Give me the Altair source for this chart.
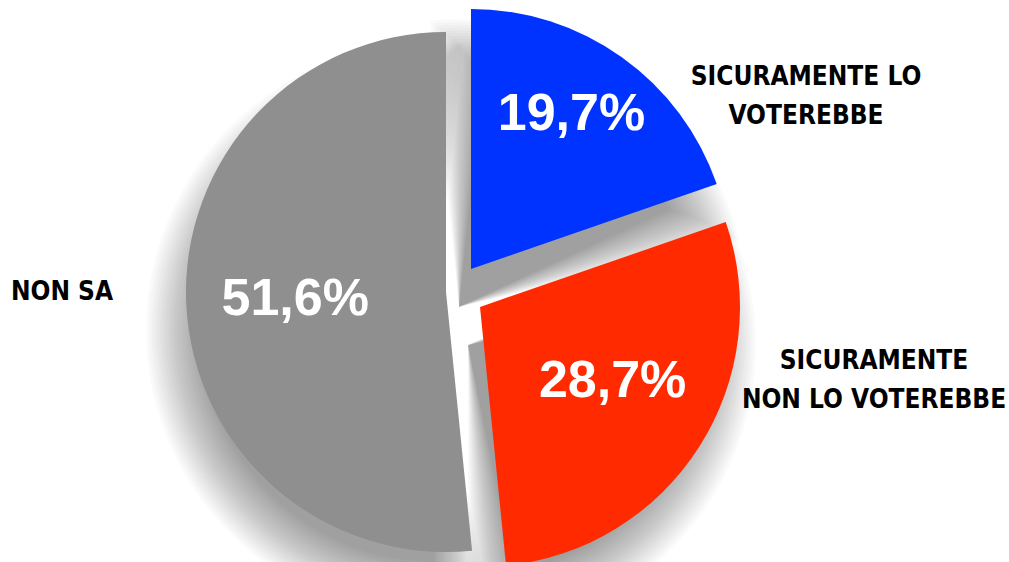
import altair as alt
import pandas as pd

# ---- data ----
categories = ["SICURAMENTE LO VOTEREBBE", "SICURAMENTE NON LO VOTEREBBE", "NON SA"]
label_lines = ["SICURAMENTE LO\nVOTEREBBE", "SICURAMENTE\nNON LO VOTEREBBE", "NON SA"]
values = [19.7, 28.7, 51.6]
pct_labels = ["19,7%", "28,7%", "51,6%"]
colors = ["#0033ff", "#ff2a00", "#8f8f8f"]
order = [0, 1, 2]

df = pd.DataFrame({
    "category": categories,
    "label": label_lines,
    "value": values,
    "pct": pct_labels,
    "order": order,
})

# ---- styling / layout ----
W, H = 1009, 562
R = 260
centers = [(471, 269), (480, 307), (446, 292)]        # exploded slice centres
pct_radius = [180, 155, 151]
pct_shift = [(-4, -8), (2, -9), (0, -1)]
outer_pos = [(806, 77), (874, 361), (62, 292)]         # centre of first line

# soft drop shadow built from stacked translucent arcs
SH_OFF = (-12, 38)
K = 10           # layers each side of the edge
SH_RAD = 2.8     # px per step
SH_ANG = 0.16    # value units (% of circle) per step
SH_OP = 0.021

LABEL_FONT = "'DejaVu Sans Condensed', 'Liberation Sans Narrow', 'DejaVu Sans', sans-serif"
PCT_FONT = "'Liberation Sans', Arial, sans-serif"

theta_scale = alt.Scale(domain=[0, 100], range=[0, 6.283185307179586])
color_scale = alt.Scale(domain=categories, range=colors)

base = (
    alt.Chart(df)
    .transform_window(cum="sum(value)", sort=[alt.SortField("order")], frame=[None, 0])
    .transform_calculate(start="datum.cum - datum.value",
                         mid="datum.cum - datum.value / 2")
)

shadow_layers, slice_layers, text_layers = [], [], []
for i in order:
    cx, cy = centers[i]
    sub = base.transform_filter(f"datum.order == {i}")
    for k in range(-K, K + 1):
        shadow_layers.append(
            sub.transform_calculate(
                s0=f"datum.start - ({k * SH_ANG})",
                s1=f"datum.cum + ({k * SH_ANG})",
            ).mark_arc(radius=R + k * SH_RAD, color="black", opacity=SH_OP,
                       x=cx + SH_OFF[0], y=cy + SH_OFF[1])
            .encode(theta=alt.Theta("s0:Q", scale=theta_scale, stack=None),
                    theta2="s1:Q")
        )
    slice_layers.append(
        sub.mark_arc(radius=R, x=cx, y=cy, opacity=1)
        .encode(theta=alt.Theta("start:Q", scale=theta_scale, stack=None),
                theta2="cum:Q",
                color=alt.Color("category:N", scale=color_scale, legend=None))
    )
    dx, dy = pct_shift[i]
    text_layers.append(
        sub.mark_text(x=cx, y=cy, radius=pct_radius[i], dx=dx, dy=dy,
                      font=PCT_FONT, fontSize=52, fontWeight="bold",
                      color="white", align="center", baseline="middle")
        .encode(theta=alt.Theta("mid:Q", scale=theta_scale, stack=None),
                text="pct:N")
    )
    ox, oy = outer_pos[i]
    text_layers.append(
        sub.mark_text(x=ox, y=oy, font=LABEL_FONT, fontSize=26, fontWeight="bold",
                      color="black", align="center", baseline="middle",
                      lineBreak="\n", lineHeight=39)
        .encode(text="label:N")
    )

chart = (
    alt.layer(*shadow_layers, *slice_layers, *text_layers)
    .properties(width=W, height=H, padding=0, autosize="none", background="white")
    .configure_view(stroke=None)
)

chart.save("out.html", embed_options={"renderer": "svg", "actions": False})
